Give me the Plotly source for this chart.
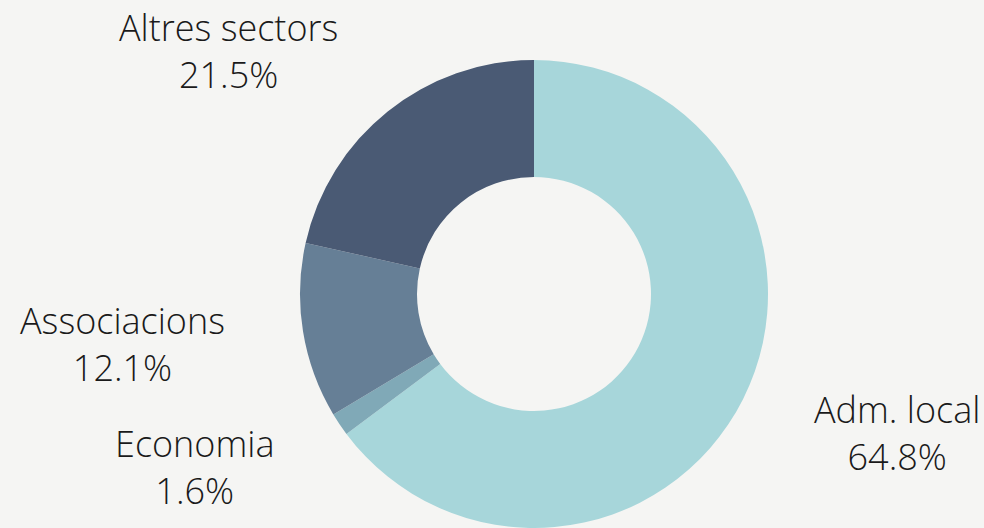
import math
import plotly.graph_objects as go

# Dades del gràfic
sectors = ["Adm. local", "Economia", "Associacions", "Altres sectors"]
percentatges = [64.8, 1.6, 12.1, 21.5]
colors = ["#a7d6da", "#80a9b7", "#667f96", "#4a5a74"]

W, H = 984, 528
marge = dict(l=84, r=0, t=60, b=0)
radi = (H - marge["t"] - marge["b"]) / 2  # radi del pastís en px
dist_etiqueta = radi + 77  # distància de les etiquetes al centre

fig = go.Figure()
fig.add_trace(go.Pie(
    labels=sectors,
    values=percentatges,
    hole=0.5,
    sort=False,
    direction="clockwise",
    rotation=0,
    marker=dict(colors=colors, line=dict(width=0)),
    textinfo="none",
    showlegend=False,
))

# Etiquetes exteriors, col·locades segons l'angle mitjà de cada sector
total = sum(percentatges)
acumulat = 0
for nom, val in zip(sectors, percentatges):
    mig = (acumulat + val / 2) / total * 2 * math.pi
    acumulat += val
    dx = math.sin(mig) * dist_etiqueta
    dy = math.cos(mig) * dist_etiqueta
    fig.add_annotation(
        x=0.5, y=0.5, xref="paper", yref="paper",
        xshift=dx, yshift=dy,
        text=f"{nom}<br>{val:.1f}%",
        showarrow=False,
        xanchor="left" if dx > 0 else "right",
        yanchor="middle",
        align="center",
        font=dict(family="Open Sans", size=36, color="#1a1a1a", weight=300),
    )

fig.update_layout(
    width=W, height=H,
    margin=marge,
    paper_bgcolor="#f5f5f3",
    plot_bgcolor="#f5f5f3",
)

# sense marge del body perquè el gràfic ocupi tota la finestra
fig.write_html(
    "out.html",
    config={"displayModeBar": False},
    post_script="document.body.style.margin='0';document.body.style.overflow='hidden';",
)
